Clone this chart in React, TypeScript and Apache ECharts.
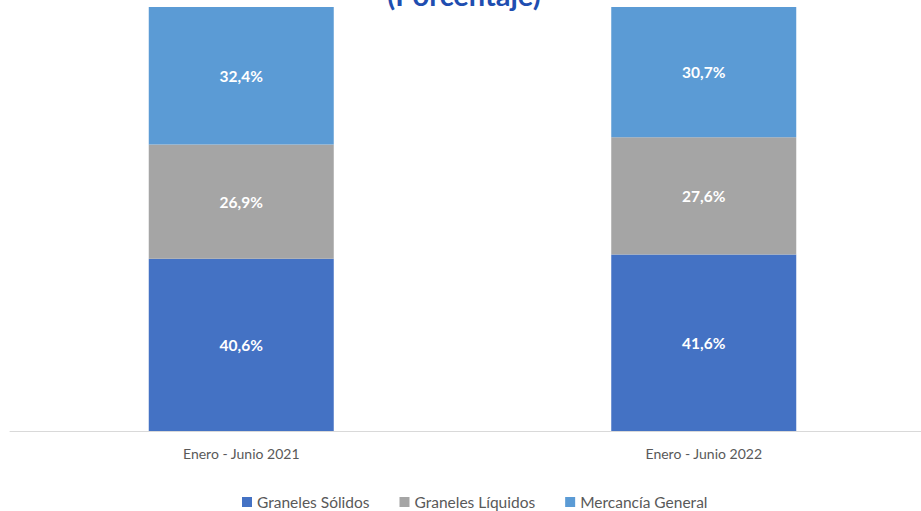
import React, { useEffect, useRef } from "react";
import * as echarts from "echarts";

const categories = ["Enero - Junio 2021", "Enero - Junio 2022"];
const granelesSolidos = [40.6, 41.6];
const granelesLiquidos = [26.9, 27.6];
const mercanciaGeneral = [32.4, 30.7];
const seriesNames = ["Graneles Sólidos", "Graneles Líquidos", "Mercancía General"];
const colors = ["#4472C4", "#A5A5A5", "#5B9BD5"];
const titleText = "(Porcentaje)";

const FONT = "Lato, 'Noto Sans', sans-serif";

export default function App() {
  const ref = useRef<HTMLDivElement>(null);
  useEffect(() => {
    if (!ref.current) return;
    const chart = echarts.init(ref.current, undefined, { renderer: "svg" });
    const fmt = (p: any) => String(p.value.toFixed(1)).replace(".", ",") + "%";
    const mk = (name: string, data: number[], color: string) => ({
      name,
      type: "bar",
      stack: "total",
      data,
      barWidth: 185,
      itemStyle: { color },
      label: {
        show: true,
        position: "inside",
        color: "#FFFFFF",
        fontWeight: "bold",
        fontSize: 15.5,
        fontFamily: FONT,
        formatter: fmt,
      },
    });
    chart.setOption({
      animation: false,
      textStyle: { fontFamily: FONT },
      graphic: [
        {
          type: "text",
          x: 464,
          y: 9,
          style: {
            text: titleText,
            fill: "#1F4EB0",
            font: "bold 29px " + FONT,
            align: "center",
            verticalAlign: "bottom",
          },
        },
      ],
      legend: {
        data: seriesNames,
        left: 242,
        top: 494,
        padding: 0,
        itemWidth: 10,
        itemHeight: 10,
        itemGap: 30,
        icon: "rect",
        textStyle: { color: "#595959", fontSize: 15.5, fontFamily: FONT },
      },
      grid: { left: 10, top: 7, right: 10, bottom: 80, containLabel: false },
      xAxis: {
        type: "category",
        data: categories,
        axisLine: { lineStyle: { color: "#D9D9D9", width: 1 } },
        axisTick: { show: false },
        axisLabel: { color: "#595959", fontSize: 14, fontFamily: FONT, margin: 15 },
      },
      yAxis: {
        type: "value",
        min: 0,
        max: 99.9,
        show: false,
        splitLine: { show: false },
      },
      series: [
        mk(seriesNames[0], granelesSolidos, colors[0]),
        mk(seriesNames[1], granelesLiquidos, colors[1]),
        mk(seriesNames[2], mercanciaGeneral, colors[2]),
      ],
    });
    return () => chart.dispose();
  }, []);
  return (
    <div style={{ position: "absolute", left: 0, top: 0, width: 921, height: 511, overflow: "hidden" }}>
      <div ref={ref} style={{ width: 945, height: 511 }} />
    </div>
  );
}
